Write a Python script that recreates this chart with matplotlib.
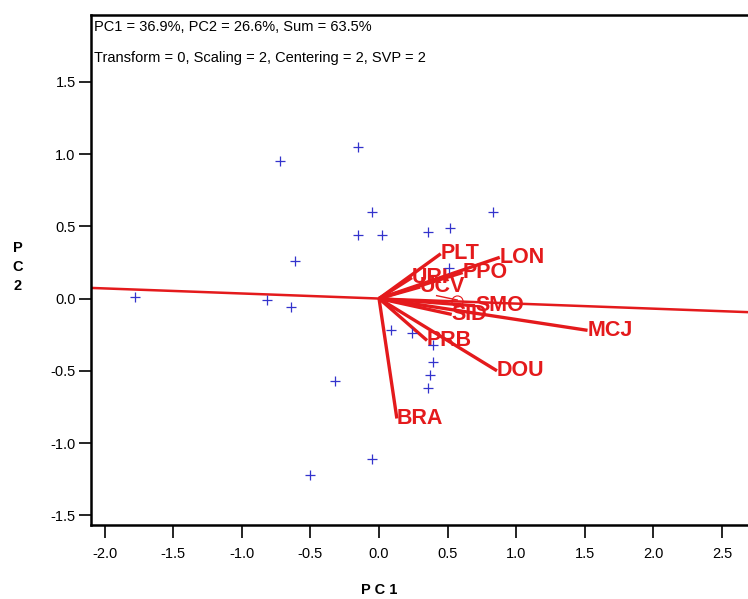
import matplotlib.pyplot as plt

# sample scores (PC1, PC2)
score_x = [-1.78, -0.82, -0.64, -0.72, -0.15, -0.05, -0.15, 0.02, -0.61, 0.36, 0.52,
           0.83, 0.51, 0.09, 0.24, 0.39, 0.39, 0.37, 0.36, -0.32, -0.05, -0.50]
score_y = [0.01, -0.01, -0.06, 0.95, 1.05, 0.60, 0.44, 0.44, 0.26, 0.46, 0.49,
           0.60, 0.21, -0.22, -0.24, -0.32, -0.44, -0.53, -0.62, -0.57, -1.11, -1.22]

# variable loadings
var_names = ['PLT', 'LON', 'PPO', 'URI', 'UCV', 'SMO', 'SID', 'MCJ', 'PRB', 'DOU', 'BRA']
load_x = [0.45, 0.88, 0.61, 0.24, 0.30, 0.70, 0.53, 1.52, 0.35, 0.86, 0.13]
load_y = [0.31, 0.285, 0.18, 0.145, 0.08, -0.05, -0.11, -0.22, -0.29, -0.50, -0.83]

# extra unlabeled loading drawn with a circle
circ_x, circ_y = 0.57, -0.02

axis_slope = -0.035

header = ['PC1 = 36.9%, PC2 = 26.6%, Sum = 63.5%',
          'Transform = 0, Scaling = 2, Centering = 2, SVP = 2']

fnt = ['Liberation Sans', 'DejaVu Sans']
red = '#e41a1c'

fig = plt.figure(figsize=(7.48, 5.99), dpi=100)
ax = fig.add_axes([91/748, 74/599, 657/748, 510/599])
ax.set_xlim(-2.10, 2.69)
ax.set_ylim(-1.567, 1.962)

ax.axline((0, 0), slope=axis_slope, color=red, lw=1.8, zorder=2)
for nm, x, y in zip(var_names, load_x, load_y):
    ax.plot([0, x], [0, y], color=red, lw=2.4, solid_capstyle='butt', zorder=3)
    ax.text(x, y, nm, color=red, fontsize=15.5, fontweight='bold', family=fnt,
            ha='left', va='center', zorder=4)
ax.plot([0.42, circ_x], [0.02, -0.01], color=red, lw=1.0, zorder=3)
ax.plot(circ_x, circ_y, 'o', mfc='none', mec=red, ms=8, mew=0.8, zorder=3)

ax.plot(score_x, score_y, '+', color='#3333cc', ms=7, mew=0.9, zorder=5)

ax.text(0.005, 0.99, header[0], transform=ax.transAxes, fontsize=10.5, family=fnt,
        ha='left', va='top')
ax.text(0.005, 0.93, header[1], transform=ax.transAxes, fontsize=10.5, family=fnt,
        ha='left', va='top')

ax.set_xticks([-2.0, -1.5, -1.0, -0.5, 0.0, 0.5, 1.0, 1.5, 2.0, 2.5])
ax.set_yticks([-1.5, -1.0, -0.5, 0.0, 0.5, 1.0, 1.5])
ax.set_xticklabels(['%.1f' % v for v in ax.get_xticks()], family=fnt, fontsize=10.5)
ax.set_yticklabels(['%.1f' % v for v in ax.get_yticks()], family=fnt, fontsize=10.5)
ax.tick_params(axis='x', direction='out', length=9, width=1.2, pad=7)
ax.tick_params(axis='y', direction='out', length=9, width=1.2, pad=2)

ax.spines['right'].set_visible(False)
for s in ['left', 'top', 'bottom']:
    ax.spines[s].set_linewidth(1.8)

fig.text(379/748, 1 - 590/599, 'P C 1', fontsize=10.5, fontweight='bold', family=fnt,
         ha='center', va='center')
fig.text(18/748, 1 - 267/599, 'P\nC\n2', fontsize=10.5, fontweight='bold', family=fnt,
         ha='center', va='center', linespacing=1.5)

fig.savefig('out.png', dpi=100)
